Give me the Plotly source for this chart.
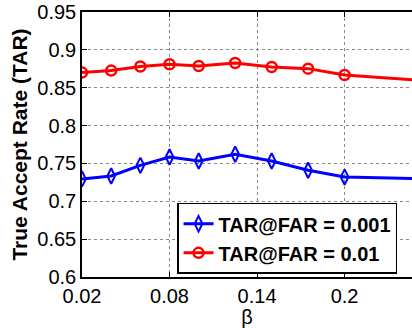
import plotly.graph_objects as go

# beta values and true accept rates at two false accept rates
beta = [0.02, 0.04, 0.06, 0.08, 0.10, 0.125, 0.15, 0.175, 0.20, 0.30]
tar_far_0001 = [0.7295, 0.7334, 0.7475, 0.7585, 0.7532, 0.7621, 0.7532, 0.741, 0.732, 0.7277]
tar_far_001 = [0.870, 0.8726, 0.878, 0.881, 0.8787, 0.8827, 0.8774, 0.8752, 0.8668, 0.8535]

x_ticks = [0.02, 0.08, 0.14, 0.2]
x_tick_text = ["0.02", "0.08", "0.14", "0.2"]
y_ticks = [0.6, 0.65, 0.7, 0.75, 0.8, 0.85, 0.9, 0.95]
y_tick_text = ["0.6", "0.65", "0.7", "0.75", "0.8", "0.85", "0.9", "0.95"]

FONT = "Liberation Sans, Arial, Helvetica, sans-serif"

fig = go.Figure()
fig.add_trace(go.Scatter(
    x=beta, y=tar_far_0001, mode="lines+markers", name="<b>TAR@FAR = 0.001</b>",
    line=dict(color="#0000ff", width=3),
    marker=dict(symbol="diamond-tall-open", size=11, color="#0000ff",
                line=dict(width=2, color="#0000ff")),
))
fig.add_trace(go.Scatter(
    x=beta, y=tar_far_001, mode="lines+markers", name="<b>TAR@FAR = 0.01</b>",
    line=dict(color="#ff0000", width=3),
    marker=dict(symbol="circle-open", size=10, color="#ff0000",
                line=dict(width=2.5, color="#ff0000")),
))

fig.update_layout(
    width=412, height=328,
    margin=dict(l=82, r=0, t=12, b=51),
    paper_bgcolor="white", plot_bgcolor="white",
    font=dict(family=FONT, size=20, color="black"),
    showlegend=True,
    legend=dict(
        x=0.288, y=0.28, xanchor="left", yanchor="top",
        bgcolor="white", bordercolor="black", borderwidth=1.5,
        font=dict(family=FONT, size=20, color="black"),
        itemwidth=30, tracegroupgap=0,
    ),
)
fig.update_xaxes(
    range=[0.02, 0.2462], tickvals=x_ticks, ticktext=x_tick_text,
    showline=True, linecolor="black", linewidth=1.5, mirror="ticks",
    ticks="inside", ticklen=5, tickcolor="black",
    showgrid=True, gridcolor="#888888", griddash="dot", gridwidth=1,
    zeroline=False,
    title=dict(text="β", font=dict(family=FONT, size=20), standoff=0),
    tickfont=dict(family=FONT, size=20),
)
fig.update_yaxes(
    range=[0.6, 0.95], tickvals=y_ticks, ticktext=y_tick_text,
    showline=True, linecolor="black", linewidth=1.5, mirror=False,
    ticks="inside", ticklen=5, tickcolor="black",
    showgrid=True, gridcolor="#888888", griddash="dot", gridwidth=1,
    zeroline=False,
    title=dict(text="<b>True Accept Rate (TAR)</b>", font=dict(family=FONT, size=21), standoff=4),
    tickfont=dict(family=FONT, size=20),
)

fig.write_html("out.html")
